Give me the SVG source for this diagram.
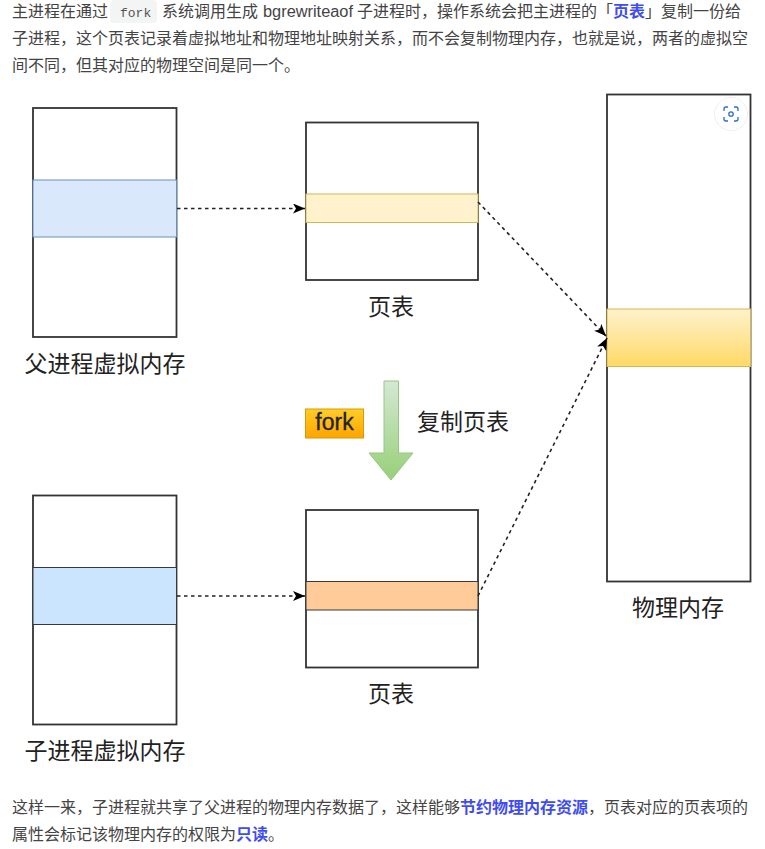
<svg xmlns="http://www.w3.org/2000/svg" width="765" height="849" viewBox="0 0 765 849">
<style>
.p{font-family:"Liberation Sans","Noto Sans CJK SC",sans-serif;font-size:16px;fill:#444}
.b{font-weight:700;fill:#3f4df0}
.l{font-family:"Liberation Sans","Noto Sans CJK SC",sans-serif;font-size:23px;fill:#222}
.box{fill:#fff;stroke:#333;stroke-width:1.800}
.d{fill:none;stroke:#222;stroke-width:1.600;stroke-dasharray:3.500 3.500}
</style>
<defs>
<marker id="a" markerUnits="userSpaceOnUse" markerWidth="14" markerHeight="12" refX="12" refY="5" orient="auto"><path d="M0 0L12 5L0 10L3 5Z" fill="#000"/></marker>
<linearGradient id="g1" x1="0" y1="0" x2="0" y2="1"><stop offset="0" stop-color="#fff2cc"/><stop offset="1" stop-color="#ffd966"/></linearGradient>
<linearGradient id="g2" x1="0" y1="0" x2="0" y2="1"><stop offset="0" stop-color="#d5e8d4"/><stop offset="1" stop-color="#97d077"/></linearGradient>
<linearGradient id="g3" x1="0" y1="0" x2="0" y2="1"><stop offset="0" stop-color="#ffcd28"/><stop offset="1" stop-color="#ffa500"/></linearGradient>
</defs>
<rect width="765" height="849" fill="#fff"/>
<g id="intro">
<rect x="110" y="0" width="47" height="23" rx="4" fill="#f3f4f4"/>
<text class="p" x="12" y="17">主进程在通过</text>
<text x="120" y="17" font-family="'Liberation Mono',monospace" font-size="13" fill="#555">fork</text>
<text class="p" x="162" y="17">系统调用生成</text>
<text class="p" x="263" y="17" textLength="90" lengthAdjust="spacingAndGlyphs">bgrewriteaof</text>
<text class="p" x="357" y="17">子进程时，操作系统会把主进程的「<tspan class="b">页表</tspan>」复制一份给</text>
<text class="p" x="12" y="44">子进程，这个页表记录着虚拟地址和物理地址映射关系，而不会复制物理内存，也就是说，两者的虚拟空</text>
<text class="p" x="12" y="71">间不同，但其对应的物理空间是同一个。</text>
</g>
<g id="parent-vm"><rect class="box" x="33" y="108" width="143.500" height="229"/><rect x="33" y="180" width="143.500" height="57" fill="#dae8fc" stroke="#6c8ebf"/><text class="l" x="105" y="372" text-anchor="middle">父进程虚拟内存</text></g>
<g id="parent-pt"><rect class="box" x="306" y="122.500" width="172" height="157.500"/><rect x="306" y="194" width="172" height="28.500" fill="#fff2cc" stroke="#d6b656"/><text class="l" x="391" y="315" text-anchor="middle">页表</text></g>
<g id="physical"><rect class="box" x="607" y="94.500" width="143.500" height="487"/><rect x="607" y="309" width="143.500" height="57.500" fill="url(#g1)" stroke="#d6b656"/><text class="l" x="678" y="616" text-anchor="middle">物理内存</text></g>
<g id="child-vm"><rect class="box" x="33" y="495.500" width="143.500" height="229"/><rect x="33" y="567.500" width="143.500" height="57" fill="#cce5ff" stroke="#36393d"/><text class="l" x="105" y="759" text-anchor="middle">子进程虚拟内存</text></g>
<g id="child-pt"><rect class="box" x="306" y="510" width="172" height="157.500"/><rect x="306" y="581.500" width="172" height="28.500" fill="#ffcc99" stroke="#36393d"/><text class="l" x="391" y="702" text-anchor="middle">页表</text></g>
<g id="connectors">
<path class="d" d="M177 208.500H305" marker-end="url(#a)"/>
<path class="d" d="M478 202L606 336" marker-end="url(#a)"/>
<path class="d" d="M177 596H305" marker-end="url(#a)"/>
<path class="d" d="M478 596L607 338" marker-end="url(#a)"/>
</g>
<g id="copy-arrow"><path d="M384 381H398.500V453H413L391 480L369 453H384Z" fill="url(#g2)" stroke="#97c583" stroke-width="1"/></g>
<g id="fork"><rect x="305.500" y="409" width="58" height="29" fill="url(#g3)" stroke="#d79b00"/><text x="334.500" y="430" text-anchor="middle" font-family="'Liberation Sans',sans-serif" font-size="23" fill="#222" stroke="#222" stroke-width="0.300">fork</text></g>
<text class="l" x="463" y="430" text-anchor="middle">复制页表</text>
<g id="scan-icon">
<circle cx="731" cy="114" r="16.500" fill="#fff" stroke="#f0f0f0"/>
<path d="M724 111V109Q724 107 726 107H728M734 107H736Q738 107 738 109V111M738 117V119Q738 121 736 121H734M728 121H726Q724 121 724 119V117" fill="none" stroke="#2a6fc4" stroke-width="1.300"/>
<circle cx="731" cy="114" r="2.200" fill="none" stroke="#2a6fc4" stroke-width="1.300"/>
</g>
<g id="outro">
<text class="p" x="12" y="813">这样一来，子进程就共享了父进程的物理内存数据了，这样能够<tspan class="b">节约物理内存资源</tspan>，页表对应的页表项的</text>
<text class="p" x="12" y="840">属性会标记该物理内存的权限为<tspan class="b">只读</tspan>。</text>
</g>
</svg>
